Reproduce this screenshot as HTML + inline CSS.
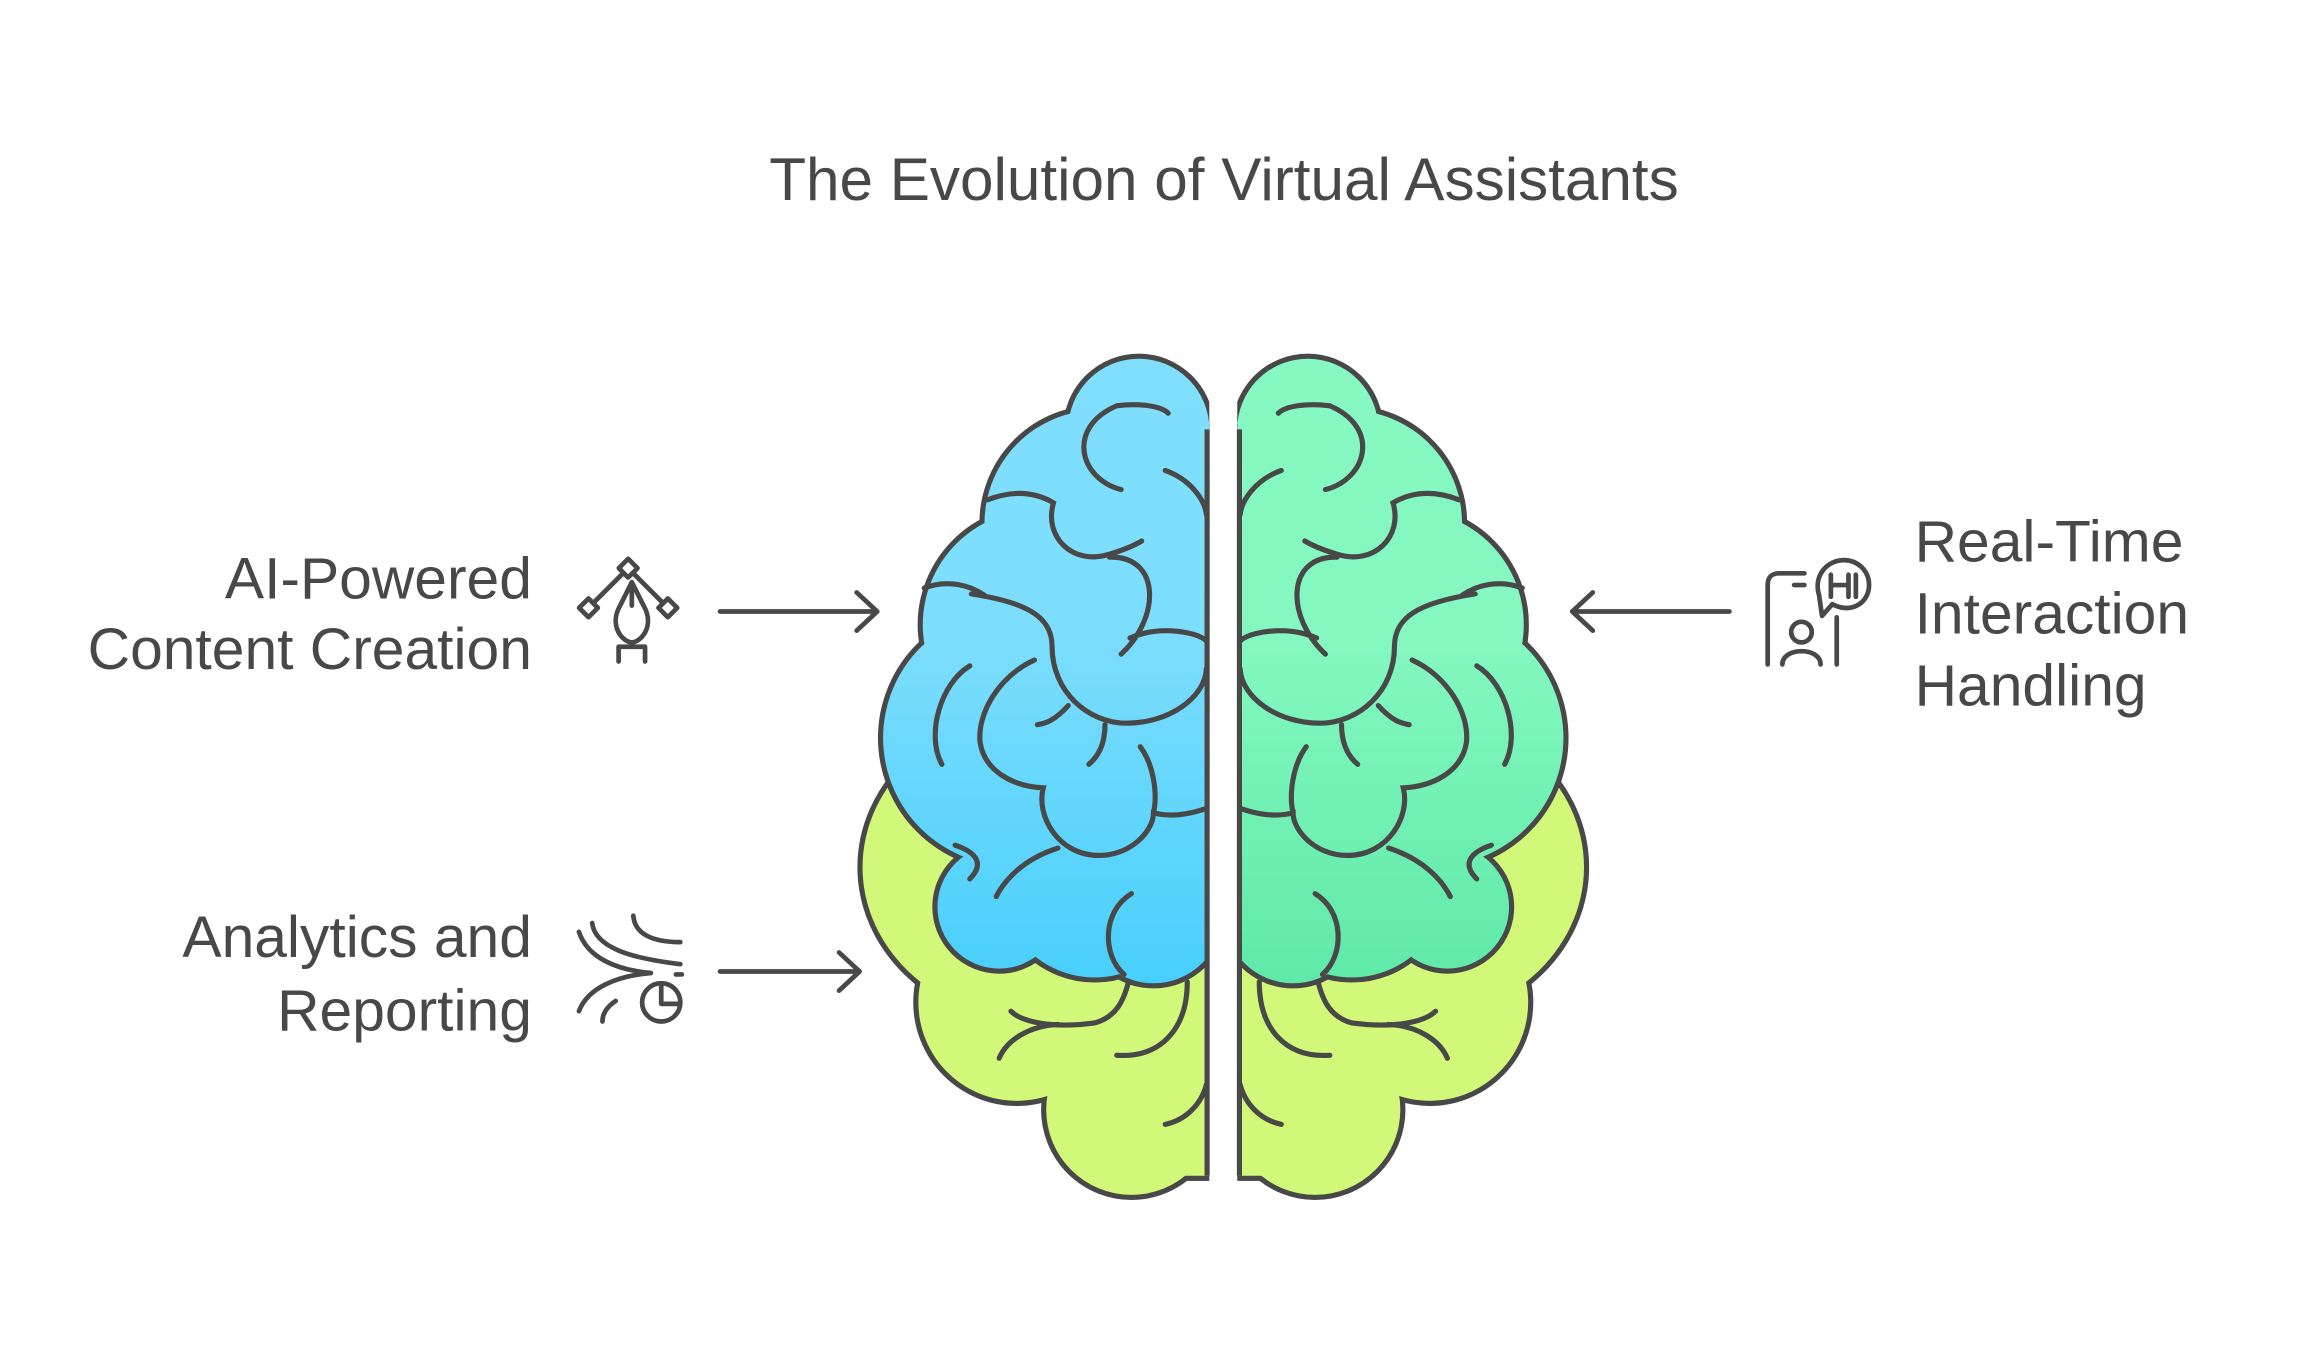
<!DOCTYPE html>
<html><head><meta charset="utf-8"><style>
html,body{margin:0;padding:0;background:#fff}
svg{display:block}
text{font-family:"Liberation Sans",sans-serif;fill:#484848}
</style></head><body>
<svg width="2304" height="1345" viewBox="0 0 1568 915" xmlns="http://www.w3.org/2000/svg">
<defs>
<linearGradient id="gb" x1="0" y1="245" x2="0" y2="670" gradientUnits="userSpaceOnUse">
<stop offset="0" stop-color="#80dffd"/><stop offset="0.45" stop-color="#7cddfd"/><stop offset="1" stop-color="#48cffc"/></linearGradient>
<linearGradient id="gg" x1="0" y1="245" x2="0" y2="670" gradientUnits="userSpaceOnUse">
<stop offset="0" stop-color="#86f9c2"/><stop offset="0.45" stop-color="#84f8c0"/><stop offset="1" stop-color="#5fe9a8"/></linearGradient>
<clipPath id="cl"><rect x="0" y="0" width="823" height="915"/></clipPath>
<g id="lime">
<ellipse cx="706" cy="590" rx="119" ry="105"/>
<circle cx="692" cy="682" r="67"/>
<circle cx="770" cy="755" r="58"/>
<rect x="740" y="640" width="90" height="160"/>
</g>
<g id="blue">
<circle cx="775" cy="292" r="48"/>
<circle cx="747" cy="356" r="77"/>
<circle cx="706" cy="425" r="78"/>
<circle cx="688" cy="502" r="87"/>
<circle cx="748" cy="545" r="85"/>
<circle cx="680" cy="617" r="42"/>
<circle cx="745" cy="600" r="65"/>
<circle cx="785" cy="622" r="47"/>
<rect x="770" y="292" width="60" height="330"/>
</g>
<g id="half">
<g clip-path="url(#cl)">
<use href="#lime" fill="#484848" stroke="#484848" stroke-width="7"/>
<use href="#lime" fill="#d1f878"/>
<use href="#blue" fill="#484848" stroke="#484848" stroke-width="7"/>
<use href="#blue"/>
</g>
<line x1="821.5" y1="292" x2="821.5" y2="800" stroke="#484848" stroke-width="3.5"/>
<g fill="none" stroke="#484848" stroke-width="3.5" stroke-linecap="round">
<path d="M763 297 C735 290 725 255 760 240 C775 238 790 240 795 245" transform="translate(0,36)"/>
<path d="M793 320 C810 326 820 340 821 350"/>
<path d="M672 340 C690 333 705 335 717 342 C710 365 730 385 755 377 C765 374 772 371 777 368"/>
<path d="M755 379 C790 378 790 420 763 445"/>
<path d="M629 400 C645 394 660 398 670 405"/>
<path d="M661 404 C700 410 716 420 716 440 C716 470 740 492 767 492 C795 492 820 475 821 455"/>
<path d="M769 434 C790 425 815 430 821 436"/>
<path d="M704 449 C680 460 665 485 667 505 C670 525 690 535 710 536 C705 555 720 582 748 582 C770 582 785 565 785 553 C800 557 815 552 821 550"/>
<path d="M660 453 C640 465 630 500 641 520"/>
<path d="M727 480 C718 490 712 492 706 493"/>
<path d="M752 493 C752 507 747 515 741 520"/>
<path d="M776 508 C785 520 788 540 785 553"/>
<path d="M720 577 C695 585 683 600 678 610"/>
<path d="M650 575 C665 580 670 588 660 598"/>
<path d="M770 608 C750 620 750 650 765 663"/>
<path d="M688 688 C695 695 715 700 745 696 C760 692 765 680 768 668"/>
<path d="M720 697 C700 698 685 708 680 720"/>
<path d="M760 718 C790 720 808 700 808 668"/>
<path d="M793 765 C808 762 818 750 821 738"/>
</g>
</g>
</defs>

<text x="833" y="136" font-size="41" text-anchor="middle">The Evolution of Virtual Assistants</text>

<use href="#half" fill="url(#gb)"/>
<g transform="translate(1665,0) scale(-1,1)"><use href="#half" fill="url(#gg)"/></g>

<g font-size="40" text-anchor="end">
<text x="362" y="407">AI-Powered</text>
<text x="362" y="455">Content Creation</text>
<text x="362" y="651">Analytics and</text>
<text x="362" y="701">Reporting</text>
</g>
<g font-size="40">
<text x="1303" y="382">Real-Time</text>
<text x="1303" y="431">Interaction</text>
<text x="1303" y="480">Handling</text>
</g>

<g fill="none" stroke="#484848" stroke-width="3.2" stroke-linecap="round" stroke-linejoin="round">
<path d="M490 416 H597 M583 403 L597 416 L583 429"/>
<path d="M490 661 H585 M571 648 L585 661 L571 674"/>
<path d="M1177 416 H1070 M1084 403 L1070 416 L1084 429"/>
<rect x="423" y="382" width="9" height="9" transform="rotate(45 427.5 386.5)"/>
<rect x="396" y="409" width="9" height="9" transform="rotate(45 400.5 413.5)"/>
<rect x="450" y="409" width="9" height="9" transform="rotate(45 454.5 413.5)"/>
<path d="M424 390 L404 410 M431 390 L451 410"/>
<path d="M431 396 L423 412 C415 426 425 437 431 437 C437 437 447 426 439 412 Z" transform="translate(-1,0)"/>
<path d="M430 397 V412 M421 440 V450 M439 440 V450 M421 440 H439"/>
<path d="M394 634 C400 652 420 660 443 662 C420 664 400 672 394 688"/>
<path d="M403 628 C405 645 430 652 463 656"/>
<path d="M431 623 C432 636 445 641 463 641"/>
<path d="M419 681 C413 685 410 690 410 695"/>
<path d="M460 663 H464"/>
<circle cx="450" cy="682" r="13"/>
<path d="M450 671 V683 H462"/>
<path d="M1203 452 V398 Q1203 390 1211 390 H1228 M1221 398 H1228 M1250 420 V452"/>
<circle cx="1226" cy="430" r="7"/>
<path d="M1213 452 C1213 440 1239 440 1239 452"/>
<path d="M1240 419 L1247 411 C1260 418 1272 410 1272 398 C1272 388 1264 381 1255 381 C1243 381 1234 392 1238 405 Z"/>
<path d="M1246 391 V406 M1258 391 V406 M1246 398 H1258 M1263 391 V406"/>
</g>
</svg>
</body></html>
